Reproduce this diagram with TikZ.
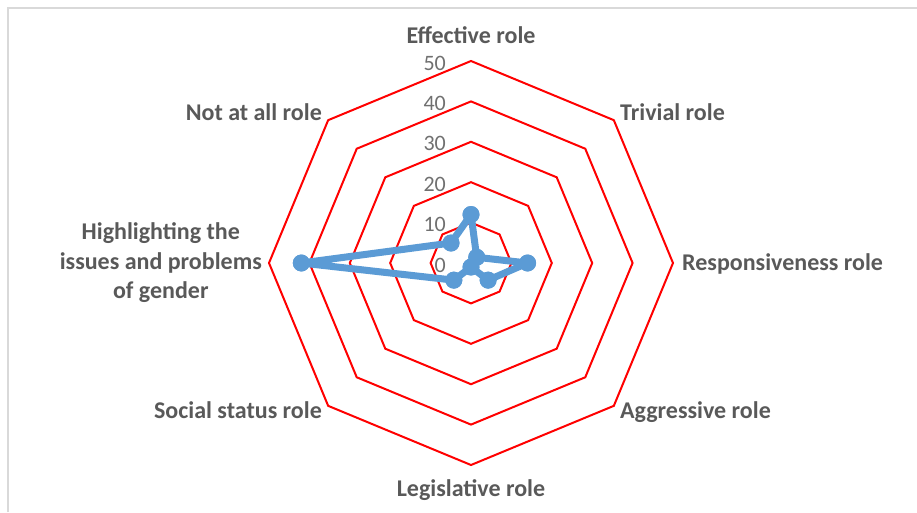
\documentclass[tikz,border=0pt]{standalone}
\usepackage{fontspec}
\setmainfont{Carlito}
\usetikzlibrary{positioning}
\definecolor{ringred}{HTML}{FF0000}
\definecolor{labelgray}{HTML}{595959}
\definecolor{tickgray}{HTML}{707070}
\definecolor{seriesblue}{HTML}{5B9BD5}
\definecolor{framegray}{HTML}{D9D9D9}
\tikzset{
  axislabel/.style={text=labelgray, inner sep=0pt,
    font=\fontsize{24}{29.5}\selectfont\bfseries},
  ticklabel/.style={text=tickgray, inner sep=0pt, anchor=east,
    font=\fontsize{22}{26}\selectfont},
  ring/.style={draw=ringred, line width=2pt, line join=miter},
  series/.style={draw=seriesblue, line width=7pt, line join=round},
  dot/.style={circle, fill=seriesblue, minimum size=17pt, inner sep=0pt}
}
\begin{document}
\begin{tikzpicture}[x=1pt,y=1pt]
\useasboundingbox (-471,-249) rectangle (446,263);
\draw[framegray, line width=2pt] (-463,-249) -- (-463,255) -- (446,255);
% rings, 10 to 50
\foreach \v in {10,20,30,40,50}
  \draw[ring] (90:{4.04*\v}) -- (45:{4.04*\v}) -- (0:{4.04*\v}) -- (-45:{4.04*\v})
    -- (-90:{4.04*\v}) -- (-135:{4.04*\v}) -- (180:{4.04*\v}) -- (135:{4.04*\v}) -- cycle;
\foreach \v in {0,10,20,30,40,50}
  \node[ticklabel] (tick\v) at (-25,{4.04*\v-2}) {\v};
% axis labels
\node[axislabel, anchor=base] (effective) at (0,219) {Effective role};
\node[axislabel, anchor=base west] (trivial) at (149,143) {Trivial role};
\node[axislabel, anchor=base west] (responsive) at (211,-7) {Responsiveness role};
\node[axislabel, anchor=base west] (aggressive) at (149,-155) {Aggressive role};
\node[axislabel, anchor=base] (legislative) at (0,-233) {Legislative role};
\node[axislabel, anchor=base east] (social) at (-149,-155) {Social status role};
\node[axislabel, anchor=east, align=center] (highlight) at (-209,0)
  {Highlighting the\\issues and problems\\of gender};
\node[axislabel, anchor=base east] (notatall) at (-149,143) {Not at all role};
% the series
\node[dot] (d1) at (90:{4.04*12}) {};
\node[dot] (d2) at (45:{4.04*2}) {};
\node[dot] (d3) at (0:{4.04*14}) {};
\node[dot] (d4) at (-45:{4.04*6}) {};
\node[dot] (d5) at (-90:{4.04*1}) {};
\node[dot] (d6) at (-135:{4.04*6}) {};
\node[dot] (d7) at (180:{4.04*42}) {};
\node[dot] (d8) at (135:{4.04*7}) {};
\draw[series] (d1.center) -- (d2.center) -- (d3.center) -- (d4.center) -- (d5.center)
  -- (d6.center) -- (d7.center) -- (d8.center) -- cycle;
\foreach \d in {1,...,8}
  \fill[seriesblue] (d\d) circle (8.5);
\end{tikzpicture}
\end{document}
